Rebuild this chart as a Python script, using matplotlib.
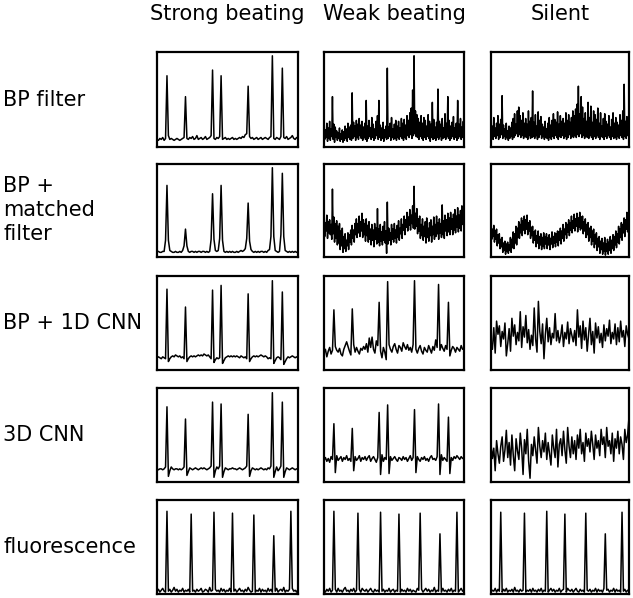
import numpy as np
import matplotlib.pyplot as plt

# column / row labels
col_titles = ['Strong beating', 'Weak beating', 'Silent']
row_titles = ['BP filter', 'BP +\nmatched\nfilter', 'BP + 1D CNN', '3D CNN', 'fluorescence']

# beat positions (sample index out of 100) shared by the beating traces
beat_idx = [7, 20, 39, 45, 64, 81, 88]
fluor_idx = [7, 24, 40, 53, 68, 82, 94]

# ---- strong beating ----
strong_bp_base = [8, 7, 9, 8, 10, 7, 9, 11, 12, 8,
                  9, 8, 7, 8, 9, 8, 7, 8, 9, 10,
                  12, 9, 8, 10, 9, 11, 8, 9, 12, 8,
                  9, 10, 8, 9, 11, 8, 9, 10, 12, 14,
                  9, 8, 10, 9, 11, 12, 8, 9, 10, 8,
                  9, 8, 9, 10, 8, 9, 8, 9, 10, 9,
                  11, 10, 13, 14, 12, 11, 9, 10, 8, 9,
                  10, 8, 9, 10, 8, 9, 10, 9, 8, 10,
                  11, 12, 9, 8, 10, 9, 8, 11, 12, 10,
                  9, 11, 8, 9, 10, 12, 9, 8, 10, 9]
strong_bp_peaks = [75, 53, 81, 75, 64, 96, 83]

strong_mf_base = [6, 6, 5, 5, 6, 6, 18, 6, 18, 7,
                  6, 5, 5, 6, 5, 5, 6, 5, 7, 12,
                  6, 12, 6, 5, 6, 6, 5, 6, 5, 6,
                  6, 5, 6, 6, 5, 6, 5, 6, 19, 6,
                  19, 7, 6, 7, 20, 6, 18, 6, 5, 6,
                  5, 6, 5, 6, 5, 5, 6, 5, 6, 7,
                  6, 7, 9, 20, 6, 17, 8, 6, 5, 6,
                  5, 6, 5, 6, 6, 5, 6, 5, 7, 8,
                  22, 6, 22, 7, 6, 5, 6, 24, 6, 22,
                  7, 6, 5, 6, 5, 6, 5, 6, 5, 6]
strong_mf_peaks = [77, 30, 68, 77, 58, 96, 90]

strong_cnn1_base = [13, 14, 13, 12, 14, 13, 12, 14, 9, 12,
                    14, 15, 14, 16, 15, 14, 15, 13, 14, 12,
                    14, 9, 12, 14, 15, 14, 15, 14, 15, 16,
                    15, 16, 15, 17, 16, 15, 16, 14, 12, 14,
                    8, 11, 13, 12, 13, 14, 7, 10, 13, 14,
                    15, 14, 15, 14, 15, 14, 15, 14, 13, 15,
                    14, 13, 14, 12, 14, 9, 12, 14, 15, 14,
                    15, 14, 15, 16, 15, 14, 15, 14, 12, 13,
                    12, 14, 7, 10, 13, 14, 13, 11, 13, 6,
                    9, 12, 14, 13, 14, 15, 14, 13, 14, 13]
strong_cnn1_peaks = [86, 67, 85, 90, 81, 95, 83]

strong_cnn3_base = [14, 13, 14, 14, 13, 14, 16, 14, 6, 12,
                    16, 14, 13, 14, 14, 13, 14, 13, 14, 16,
                    14, 7, 11, 15, 14, 13, 14, 15, 14, 13,
                    14, 15, 14, 15, 14, 13, 14, 15, 17, 14,
                    5, 12, 16, 14, 17, 14, 5, 11, 15, 14,
                    13, 14, 14, 15, 14, 14, 13, 14, 15, 14,
                    13, 14, 15, 17, 14, 6, 12, 15, 14, 13,
                    14, 13, 14, 15, 14, 13, 14, 13, 15, 14,
                    17, 14, 5, 11, 16, 12, 14, 17, 14, 5,
                    11, 15, 14, 13, 14, 15, 14, 13, 14, 14]
strong_cnn3_peaks = [80, 67, 85, 83, 72, 95, 85]

# ---- weak beating ----
weak_bp_hi = [22, 18, 25, 20, 27, 19, 53, 24, 21, 17,
              15, 20, 14, 18, 16, 22, 19, 25, 21, 23,
              57, 26, 22, 28, 24, 30, 23, 27, 21, 25,
              49, 22, 28, 20, 31, 24, 19, 27, 33, 49,
              23, 20, 26, 18, 22, 83, 21, 25, 31, 19,
              24, 28, 22, 27, 20, 30, 25, 29, 23, 33,
              28, 36, 41, 60, 96, 38, 34, 30, 26, 33,
              25, 31, 28, 22, 34, 27, 24, 47, 29, 21,
              26, 61, 27, 24, 30, 20, 35, 25, 53, 28,
              22, 26, 32, 20, 25, 49, 24, 30, 21, 27]
weak_bp_lo = [8, 10, 6, 9, 7, 11, 8, 5, 10, 7,
              9, 6, 8, 5, 7, 9, 6, 10, 8, 7,
              9, 11, 7, 10, 8, 12, 9, 7, 10, 8,
              6, 9, 11, 8, 10, 7, 9, 12, 8, 10,
              7, 9, 6, 10, 8, 9, 11, 7, 10, 8,
              9, 7, 10, 8, 11, 9, 7, 10, 8, 12,
              10, 13, 9, 12, 14, 11, 10, 8, 11, 9,
              7, 10, 8, 11, 9, 6, 10, 8, 9, 7,
              10, 8, 11, 7, 9, 10, 8, 11, 9, 7,
              9, 11, 8, 10, 7, 9, 11, 8, 10, 9]

weak_mf_hi = [42, 37, 45, 38, 40, 35, 73, 43, 36, 39,
              33, 36, 28, 31, 22, 25, 18, 26, 24, 29,
              34, 29, 36, 41, 36, 44, 38, 47, 40, 36,
              41, 34, 38, 30, 35, 29, 36, 31, 52, 30,
              35, 27, 33, 38, 28, 59, 31, 26, 35, 30,
              36, 29, 34, 39, 31, 41, 35, 44, 40, 48,
              43, 51, 45, 55, 76, 47, 52, 41, 44, 35,
              41, 33, 38, 42, 31, 37, 40, 33, 43, 35,
              44, 37, 41, 36, 56, 39, 45, 40, 47, 42,
              48, 41, 46, 51, 44, 53, 45, 50, 55, 49]
weak_mf_lo = [22, 28, 20, 26, 24, 19, 25, 16, 20, 13,
              15, 8, 12, 5, 9, 6, 12, 8, 16, 13,
              20, 16, 24, 21, 26, 22, 28, 21, 24, 17,
              23, 16, 19, 13, 18, 11, 19, 14, 16, 12,
              17, 13, 18, 15, 4, 14, 18, 13, 19, 16,
              20, 15, 21, 18, 25, 20, 29, 24, 32, 28,
              34, 29, 36, 31, 30, 33, 25, 28, 20, 23,
              18, 22, 15, 21, 17, 23, 16, 24, 19, 22,
              25, 19, 26, 21, 24, 20, 28, 23, 27, 24,
              30, 24, 29, 26, 32, 27, 31, 28, 35, 30]

weak_cnn1_base = [18, 22, 14, 20, 24, 17, 21, 19, 25, 21,
                  19, 23, 17, 15, 22, 26, 30, 25, 20, 16,
                  21, 27, 19, 24, 20, 17, 23, 21, 25, 22,
                  28, 19, 34, 24, 35, 22, 18, 31, 26, 15,
                  20, 13, 24, 19, 11, 23, 27, 22, 19, 25,
                  28, 22, 18, 26, 24, 20, 29, 25, 22, 27,
                  21, 24, 19, 27, 30, 22, 18, 23, 26, 20,
                  17, 24, 21, 19, 26, 22, 18, 25, 21, 32,
                  24, 16, 21, 27, 23, 20, 26, 22, 19, 15,
                  21, 25, 23, 19, 24, 22, 20, 26, 22, 23]
weak_cnn1_peaks = [64, 65, 72, 94, 95, 91, 72]

weak_cnn3_base = [23, 26, 22, 25, 21, 27, 24, 22, 10, 28,
                  23, 25, 27, 22, 26, 24, 28, 23, 25, 22,
                  26, 12, 27, 23, 25, 28, 22, 26, 24, 27,
                  23, 26, 28, 22, 25, 27, 24, 21, 26, 22,
                  8, 29, 22, 26, 24, 21, 9, 27, 23, 25,
                  27, 24, 22, 26, 25, 23, 27, 24, 26, 22,
                  25, 28, 23, 26, 21, 10, 27, 24, 22, 26,
                  24, 27, 23, 25, 22, 26, 28, 24, 25, 23,
                  27, 24, 8, 29, 23, 26, 24, 22, 28, 9,
                  26, 23, 27, 25, 28, 26, 24, 27, 25, 26]
weak_cnn3_peaks = [62, 57, 74, 82, 77, 83, 69]

# ---- silent ----
silent_bp_hi = [28, 22, 31, 20, 25, 33, 24, 29, 54, 23,
                19, 25, 17, 22, 20, 26, 30, 35, 24, 38,
                42, 33, 28, 36, 25, 30, 24, 38, 27, 31,
                59, 26, 34, 22, 37, 28, 32, 24, 21, 27,
                19, 25, 31, 23, 28, 35, 29, 26, 37, 24,
                33, 27, 30, 25, 36, 28, 34, 26, 31, 38,
                33, 40, 45, 64, 35, 53, 42, 30, 36, 27,
                47, 31, 43, 26, 38, 34, 29, 41, 25, 36,
                22, 30, 35, 27, 24, 33, 21, 29, 36, 25,
                31, 26, 23, 34, 28, 38, 66, 27, 32, 24]
silent_bp_lo = [10, 8, 11, 9, 12, 8, 10, 13, 9, 11,
                8, 10, 7, 9, 11, 8, 10, 12, 14, 11,
                13, 10, 12, 9, 11, 10, 8, 12, 9, 10,
                11, 9, 12, 8, 10, 13, 9, 11, 8, 10,
                9, 7, 10, 8, 11, 9, 12, 10, 8, 11,
                10, 12, 9, 11, 8, 10, 13, 9, 11, 10,
                12, 10, 13, 11, 14, 10, 12, 9, 11, 10,
                9, 12, 10, 8, 11, 9, 12, 10, 8, 11,
                10, 8, 11, 9, 12, 10, 8, 11, 9, 10,
                8, 11, 9, 12, 10, 8, 11, 9, 12, 10]

silent_mf_hi = [36, 30, 34, 28, 30, 24, 25, 19, 21, 15,
                17, 14, 16, 13, 21, 19, 27, 25, 33, 31,
                38, 35, 42, 39, 44, 40, 45, 37, 39, 32,
                33, 27, 29, 23, 28, 22, 25, 21, 26, 22,
                25, 21, 24, 20, 27, 22, 26, 25, 28, 27,
                31, 28, 35, 30, 37, 35, 40, 37, 44, 39,
                46, 41, 47, 42, 48, 43, 44, 38, 41, 35,
                37, 31, 33, 28, 30, 24, 26, 20, 22, 17,
                20, 15, 21, 14, 19, 16, 22, 18, 24, 22,
                28, 25, 33, 30, 37, 35, 42, 40, 48, 46]
silent_mf_lo = [19, 22, 16, 19, 12, 15, 9, 11, 5, 7,
                3, 6, 4, 7, 5, 10, 9, 15, 13, 21,
                20, 26, 23, 29, 25, 30, 24, 28, 20, 23,
                15, 18, 11, 15, 9, 13, 8, 12, 9, 14,
                9, 13, 8, 14, 10, 15, 11, 16, 12, 18,
                14, 20, 17, 24, 20, 27, 23, 29, 26, 31,
                28, 33, 27, 32, 29, 31, 25, 28, 21, 24,
                17, 21, 13, 17, 10, 14, 7, 11, 4, 8,
                3, 6, 2, 6, 3, 7, 4, 9, 7, 13,
                10, 16, 14, 21, 18, 26, 22, 30, 27, 35]

silent_cnn1 = [30, 22, 45, 18, 52, 38, 47, 25, 41, 33,
               50, 15, 28, 44, 20, 55, 36, 48, 27, 40,
               31, 62, 24, 46, 35, 58, 29, 43, 22, 37,
               26, 66, 33, 19, 73, 41, 28, 49, 12, 38,
               55, 30, 45, 27, 39, 34, 60, 31, 42, 29,
               36, 48, 25, 40, 33, 51, 28, 44, 37, 30,
               42, 26, 64, 35, 47, 23, 52, 32, 45, 20,
               38, 55, 27, 41, 18, 50, 34, 46, 29, 39,
               24, 48, 31, 44, 36, 53, 28, 40, 33, 49,
               27, 45, 30, 52, 35, 42, 25, 47, 38, 33]

silent_cnn3 = [40, 25, 36, 12, 44, 30, 20, 38, 48, 22,
               34, 55, 26, 42, 18, 50, 28, 12, 46, 33,
               24, 52, 36, 8, 45, 30, 56, 22, 4, 40,
               28, 48, 34, 20, 58, 38, 26, 44, 32, 52,
               24, 42, 30, 18, 50, 36, 26, 56, 16, 40,
               46, 28, 54, 34, 20, 58, 38, 26, 48, 30,
               44, 24, 50, 36, 56, 30, 42, 22, 52, 38,
               46, 32, 54, 40, 24, 50, 36, 44, 28, 56,
               40, 48, 26, 58, 38, 44, 30, 52, 22, 46,
               36, 54, 30, 48, 40, 24, 56, 42, 50, 69]

# ---- fluorescence ----
fluor_strong_base = [3, 5, 2, 4, 6, 3, 2, 4, 3, 5,
                     2, 4, 7, 3, 5, 2, 4, 3, 6, 2,
                     4, 3, 5, 2, 6, 3, 4, 2, 5, 3,
                     4, 6, 2, 3, 5, 4, 2, 7, 3, 4,
                     2, 5, 3, 4, 2, 6, 3, 5, 2, 4,
                     3, 6, 2, 4, 3, 5, 2, 4, 6, 3,
                     4, 2, 5, 3, 7, 4, 2, 3, 5, 2,
                     4, 3, 6, 2, 5, 3, 4, 2, 6, 3,
                     5, 2, 4, 3, 6, 2, 4, 5, 3, 7,
                     2, 4, 3, 5, 2, 6, 3, 4, 2, 5]
fluor_weak_base = [4, 2, 5, 3, 6, 2, 4, 3, 5, 2,
                   6, 3, 4, 2, 5, 7, 3, 4, 2, 5,
                   3, 6, 2, 4, 3, 5, 2, 6, 4, 3,
                   5, 2, 4, 6, 3, 2, 5, 3, 4, 2,
                   6, 3, 5, 2, 4, 3, 6, 2, 4, 5,
                   2, 4, 3, 6, 2, 5, 3, 4, 2, 6,
                   3, 5, 2, 4, 3, 2, 6, 4, 3, 5,
                   2, 4, 6, 3, 5, 2, 4, 3, 7, 2,
                   4, 3, 5, 2, 6, 3, 4, 2, 5, 3,
                   6, 2, 4, 3, 5, 2, 4, 6, 3, 4]
fluor_silent_base = [2, 4, 3, 6, 2, 5, 3, 4, 2, 5,
                     3, 6, 2, 4, 3, 5, 2, 7, 3, 4,
                     2, 5, 3, 4, 6, 2, 4, 3, 5, 2,
                     6, 3, 4, 2, 5, 3, 6, 2, 4, 3,
                     5, 2, 4, 6, 3, 5, 2, 4, 3, 6,
                     2, 4, 5, 3, 2, 6, 4, 3, 5, 2,
                     4, 6, 3, 2, 5, 3, 4, 2, 6, 4,
                     3, 5, 2, 4, 3, 6, 2, 5, 3, 4,
                     2, 6, 3, 4, 5, 2, 4, 3, 6, 2,
                     5, 3, 4, 2, 6, 3, 5, 2, 4, 3]
fluor_strong_peaks = [88, 85, 87, 86, 84, 62, 88]
fluor_weak_peaks = [88, 86, 87, 85, 86, 64, 87]
fluor_silent_peaks = [87, 86, 88, 85, 86, 64, 87]


def with_peaks(base, idx, peaks):
    s = np.array(base, dtype=float)
    s[idx] = peaks
    return s


def band(hi, lo):
    # dense trace: alternate between upper and lower excursions
    s = np.empty(2 * len(hi))
    s[0::2] = hi
    s[1::2] = lo
    return s


traces = [
    [with_peaks(strong_bp_base, beat_idx, strong_bp_peaks),
     band(weak_bp_hi, weak_bp_lo),
     band(silent_bp_hi, silent_bp_lo)],
    [with_peaks(strong_mf_base, beat_idx, strong_mf_peaks),
     band(weak_mf_hi, weak_mf_lo),
     band(silent_mf_hi, silent_mf_lo)],
    [with_peaks(strong_cnn1_base, beat_idx, strong_cnn1_peaks),
     with_peaks(weak_cnn1_base, beat_idx, weak_cnn1_peaks),
     np.array(silent_cnn1, dtype=float)],
    [with_peaks(strong_cnn3_base, beat_idx, strong_cnn3_peaks),
     with_peaks(weak_cnn3_base, beat_idx, weak_cnn3_peaks),
     np.array(silent_cnn3, dtype=float)],
    [with_peaks(fluor_strong_base, fluor_idx, fluor_strong_peaks),
     with_peaks(fluor_weak_base, fluor_idx, fluor_weak_peaks),
     with_peaks(fluor_silent_base, fluor_idx, fluor_silent_peaks)],
]

W, H = 633, 598
fig = plt.figure(figsize=(W / 100, H / 100), dpi=100)

col_x = [(157, 298), (324, 464), (491, 629)]
row_y = [(52, 147), (164, 257), (276, 370), (388, 482), (500, 594)]

for r, (y0, y1) in enumerate(row_y):
    for c, (x0, x1) in enumerate(col_x):
        ax = fig.add_axes([x0 / W, 1 - y1 / H, (x1 - x0) / W, (y1 - y0) / H])
        s = traces[r][c]
        ax.plot(np.linspace(0, 1, len(s)), s, color='black', lw=1.1)
        ax.set_xlim(0, 1)
        ax.set_ylim(0, 100)
        ax.set_xticks([])
        ax.set_yticks([])
        for sp in ax.spines.values():
            sp.set_linewidth(1.6)

for c, (x0, x1) in enumerate(col_x):
    fig.text((x0 + x1) / 2 / W, 1 - 14 / H, col_titles[c],
             ha='center', va='center', fontsize=15)

for r, (y0, y1) in enumerate(row_y):
    fig.text(3 / W, 1 - (y0 + y1) / 2 / H, row_titles[r],
             ha='left', va='center', fontsize=15, linespacing=1.25)

fig.savefig('out.png', dpi=100)
